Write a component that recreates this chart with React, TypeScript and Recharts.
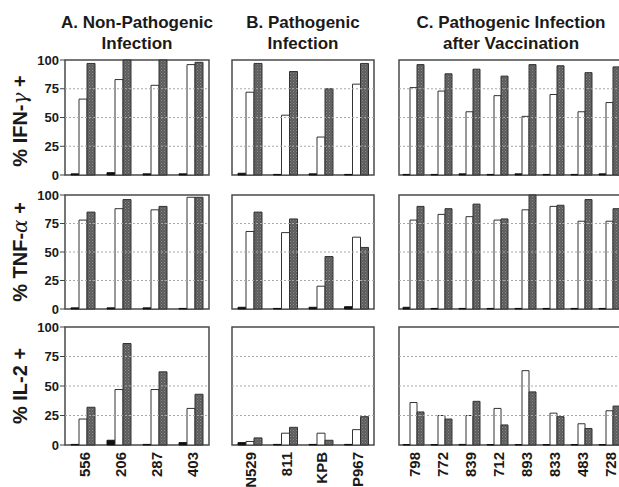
import React from "react";
import { Bar, BarChart, ReferenceArea, ReferenceLine, XAxis, YAxis } from "recharts";

const FONT = '"Liberation Sans", Arial, Helvetica, sans-serif';

// categories (animal IDs) per panel
const catsA = ["556", "206", "287", "403"];
const catsB = ["N529", "811", "KPB", "P967"];
const catsC = ["798", "772", "839", "712", "893", "833", "483", "728"];

const yTicks = [0, 25, 50, 75, 100];
const gridValues = [25, 50, 75];

// % IFN-γ+
const ifnA_black = [1, 2, 1, 1];
const ifnA_open = [66, 83, 78, 96];
const ifnA_shaded = [97, 100, 100, 98];
const ifnB_black = [1.5, 0.5, 1, 0.5];
const ifnB_open = [72, 52, 33, 79];
const ifnB_shaded = [97, 90, 75, 97];
const ifnC_black = [0.5, 0.5, 1, 0.5, 1, 0.5, 0.5, 1];
const ifnC_open = [76, 73, 55, 69, 51, 70, 55, 63];
const ifnC_shaded = [96, 88, 92, 86, 96, 95, 89, 94];

// % TNF-α+
const tnfA_black = [1, 1, 1, 0.5];
const tnfA_open = [78, 88, 87, 98];
const tnfA_shaded = [85, 96, 90, 98];
const tnfB_black = [1.5, 0.5, 1.5, 2];
const tnfB_open = [68, 67, 20, 63];
const tnfB_shaded = [85, 79, 46, 54];
const tnfC_black = [1.5, 0.5, 0.5, 0.5, 0.5, 0.5, 0.5, 0.5];
const tnfC_open = [78, 83, 81, 78, 87, 90, 77, 77];
const tnfC_shaded = [90, 88, 92, 79, 100, 91, 96, 88];

// % IL-2+
const il2A_black = [0.5, 4, 0.5, 2];
const il2A_open = [22, 47, 47, 31];
const il2A_shaded = [32, 86, 62, 43];
const il2B_black = [2, 0.5, 0.5, 0.5];
const il2B_open = [3, 10, 10, 13];
const il2B_shaded = [6, 15, 4, 24];
const il2C_black = [0.3, 0.3, 0.5, 0.3, 0.3, 0.3, 0.3, 0.3];
const il2C_open = [36, 25, 25, 31, 63, 27, 18, 29];
const il2C_shaded = [28, 22, 37, 17, 45, 24, 14, 33];

function RotatedTick(props: { x?: number; y?: number; payload?: { value?: string } }) {
  const { x = 0, y = 0, payload } = props;
  const ty = y + 7;
  return (
    <text
      x={x + 1}
      y={ty}
      transform={`rotate(-90, ${x + 1}, ${ty})`}
      textAnchor="end"
      dominantBaseline="central"
      fontSize={15}
      fontWeight={700}
      fontFamily={FONT}
      fill="#1a1a1a"
    >
      {payload?.value}
    </text>
  );
}

/** Bold percent tick on the left of the A panels. */
function PctTick(props: { x?: number; y?: number; payload?: { value?: number } }) {
  const { x = 0, y = 0, payload } = props;
  return (
    <text
      x={x}
      y={y}
      textAnchor="end"
      dominantBaseline="central"
      fontSize={13}
      fontWeight={700}
      fontFamily={FONT}
      fill="#1a1a1a"
    >
      {String(payload?.value ?? "")}
    </text>
  );
}

interface PanelProps {
  cats: string[];
  black: number[];
  open: number[];
  shaded: number[];
  plotLeft: number;
  plotTop: number;
  plotW: number;
  plotH: number;
  barSize: number;
  yLabels?: boolean;
  xLabels?: boolean;
}

function Panel({
  cats,
  black,
  open,
  shaded,
  plotLeft,
  plotTop,
  plotW,
  plotH,
  barSize,
  yLabels = false,
  xLabels = false,
}: PanelProps) {
  const data = cats.map((c, i) => ({
    c,
    black: black[i],
    open: open[i],
    shaded: shaded[i],
  }));
  const axisW = yLabels ? 45 : 5;
  const mt = 8;
  const xh = 42;
  const mb = xLabels ? 0 : 8;
  const w = axisW + plotW + 2;
  const h = mt + plotH + (xLabels ? xh : mb);
  return (
    <div style={{ position: "absolute", left: plotLeft - axisW, top: plotTop - mt }}>
      <BarChart
        width={w}
        height={h}
        data={data}
        margin={{ top: mt, right: 2, bottom: mb, left: 0 }}
        barGap={0}
        barSize={barSize}
      >
        <XAxis
          dataKey="c"
          hide={!xLabels}
          height={xh}
          interval={0}
          tickSize={0}
          tickMargin={0}
          axisLine={false}
          tickLine={false}
          tick={<RotatedTick />}
        />
        <YAxis
          type="number"
          domain={[0, 100]}
          ticks={yTicks}
          interval={0}
          width={axisW}
          tickSize={yLabels ? 5 : 4}
          tickMargin={1}
          axisLine={false}
          tickLine={{ stroke: "#444" }}
          tick={yLabels ? <PctTick /> : false}
        />
        {gridValues.map((v) => (
          <ReferenceLine key={v} y={v} stroke="#a8a8a8" strokeDasharray="2 2" />
        ))}
        <Bar dataKey="black" fill="#111" stroke="#111" strokeWidth={1} isAnimationActive={false} />
        <Bar dataKey="open" fill="#fff" stroke="#333" strokeWidth={1} isAnimationActive={false} />
        <Bar dataKey="shaded" fill="url(#dots)" stroke="#333" strokeWidth={1} isAnimationActive={false} />
        <ReferenceArea y1={0} y2={100} fill="none" stroke="#4a4a4a" strokeWidth={1.5} />
      </BarChart>
    </div>
  );
}

const colA = { plotLeft: 65, plotW: 144, barSize: 8 };
const colB = { plotLeft: 232, plotW: 142, barSize: 8 };
const colC = { plotLeft: 399, plotW: 224, barSize: 7 };
const row1 = { plotTop: 60, plotH: 115 };
const row2 = { plotTop: 195, plotH: 114 };
const row3 = { plotTop: 327, plotH: 118 };

function RowLabel({ cy, pre, greek, post }: { cy: number; pre: string; greek?: string; post: string }) {
  return (
    <text
      x={27}
      y={cy}
      transform={`rotate(-90, 27, ${cy})`}
      textAnchor="middle"
      fontSize={20}
      fontWeight={700}
      fontFamily={FONT}
      fill="#1a1a1a"
    >
      {pre}
      {greek ? (
        <tspan fontWeight={400} fontFamily='"DejaVu Serif", serif' fontStyle="italic">
          {greek}
        </tspan>
      ) : null}
      {post}
    </text>
  );
}

export default function App() {
  return (
    <div
      style={{
        position: "absolute",
        left: 0,
        top: 0,
        width: 619,
        height: 487,
        overflow: "hidden",
        background: "#fff",
      }}
    >
      <svg width={0} height={0} style={{ position: "absolute" }}>
        <defs>
          <pattern id="dots" width={3} height={3} patternUnits="userSpaceOnUse">
            <rect width={3} height={3} fill="#5c5c5c" />
            <rect x={0} y={0} width={1} height={1} fill="#8c8c8c" />
            <rect x={1.5} y={1.5} width={1} height={1} fill="#7a7a7a" />
          </pattern>
        </defs>
      </svg>

      <Panel {...colA} {...row1} cats={catsA} black={ifnA_black} open={ifnA_open} shaded={ifnA_shaded} yLabels />
      <Panel {...colB} {...row1} cats={catsB} black={ifnB_black} open={ifnB_open} shaded={ifnB_shaded} />
      <Panel {...colC} {...row1} cats={catsC} black={ifnC_black} open={ifnC_open} shaded={ifnC_shaded} />

      <Panel {...colA} {...row2} cats={catsA} black={tnfA_black} open={tnfA_open} shaded={tnfA_shaded} yLabels />
      <Panel {...colB} {...row2} cats={catsB} black={tnfB_black} open={tnfB_open} shaded={tnfB_shaded} />
      <Panel {...colC} {...row2} cats={catsC} black={tnfC_black} open={tnfC_open} shaded={tnfC_shaded} />

      <Panel {...colA} {...row3} cats={catsA} black={il2A_black} open={il2A_open} shaded={il2A_shaded} yLabels xLabels />
      <Panel {...colB} {...row3} cats={catsB} black={il2B_black} open={il2B_open} shaded={il2B_shaded} xLabels />
      <Panel {...colC} {...row3} cats={catsC} black={il2C_black} open={il2C_open} shaded={il2C_shaded} xLabels />

      <svg
        width={619}
        height={487}
        style={{ position: "absolute", left: 0, top: 0, pointerEvents: "none" }}
      >
        <g fontFamily={FONT} fontWeight={700} fontSize={17} fill="#1a1a1a" textAnchor="middle">
          <text x={137} y={28}>A. Non-Pathogenic</text>
          <text x={137} y={49}>Infection</text>
          <text x={303} y={28}>B. Pathogenic</text>
          <text x={303} y={49}>Infection</text>
          <text x={511} y={28}>C. Pathogenic Infection</text>
          <text x={511} y={49}>after Vaccination</text>
        </g>
        <RowLabel cy={121} pre="% IFN-" greek="γ" post=" +" />
        <RowLabel cy={252} pre="% TNF-" greek="α" post=" +" />
        <RowLabel cy={386} pre="% IL-2 +" post="" />
      </svg>
    </div>
  );
}
